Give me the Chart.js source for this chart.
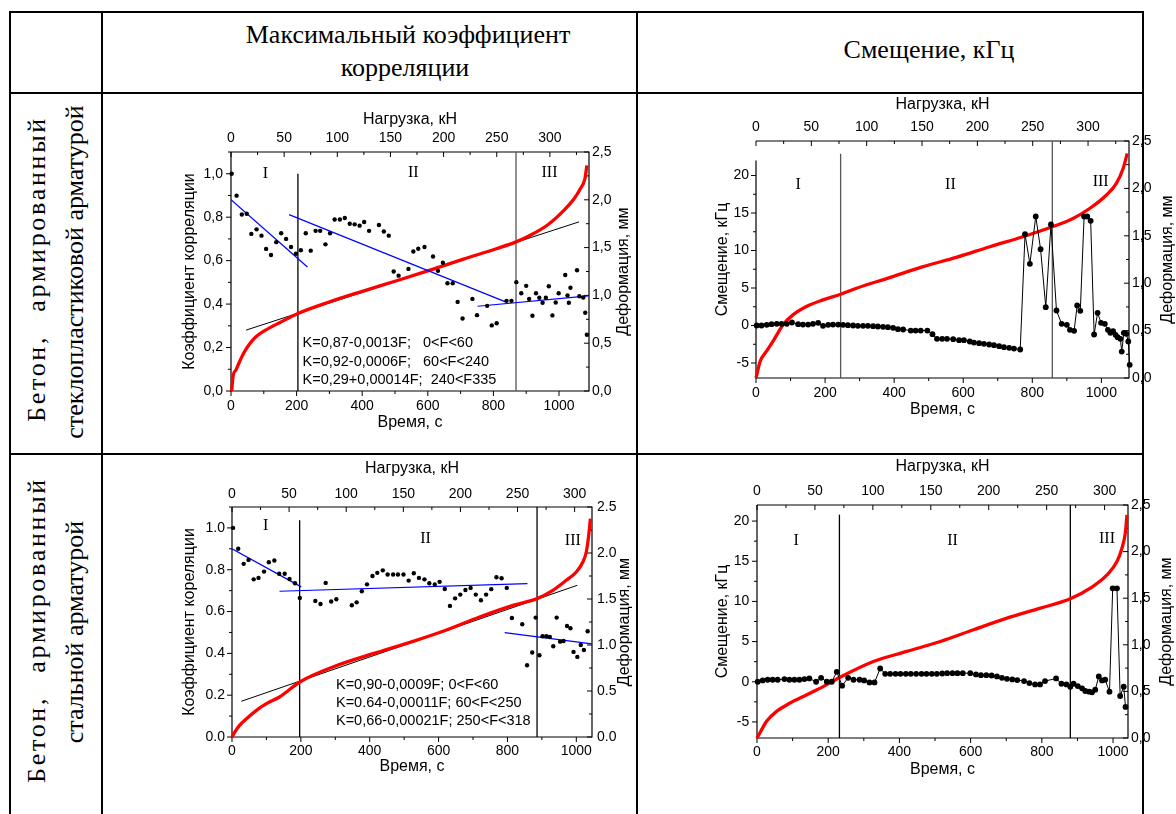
<!DOCTYPE html>
<html>
<head>
<meta charset="utf-8">
<script src="https://cdn.jsdelivr.net/npm/chart.js@4.4.1/dist/chart.umd.min.js"></script>
<style>
  body { margin: 0; background: #fff; }
  #page { position: relative; width: 1176px; height: 814px; overflow: hidden; background: #fff; color: #000; font-family: 'Liberation Serif', serif; }
  canvas { position: absolute; }
  .ln { position: absolute; background: #000; z-index: 2; }
  .hd { position: absolute; transform: translate(-50%, -50%); white-space: nowrap; font-size: 26px; line-height: 26px; }
  .rot { position: absolute; transform: translate(-50%, -50%) rotate(-90deg); white-space: nowrap; font-size: 26px; line-height: 26px; }
  .wide { letter-spacing: 2.7px; word-spacing: 14px; }
</style>
</head>
<body>
<div id="page">
  <!-- table frame -->
  <div class="ln" style="left:9px;top:11px;width:1135px;height:2px"></div>
  <div class="ln" style="left:9px;top:92px;width:1135px;height:2px"></div>
  <div class="ln" style="left:9px;top:453px;width:1135px;height:2px"></div>
  <div class="ln" style="left:9px;top:11px;width:2px;height:803px"></div>
  <div class="ln" style="left:101px;top:11px;width:2px;height:803px"></div>
  <div class="ln" style="left:636px;top:11px;width:2px;height:803px"></div>
  <div class="ln" style="left:1142px;top:11px;width:2px;height:803px"></div>

  <div class="hd" style="left:408px;top:35px">Максимальный коэффициент</div>
  <div class="hd" style="left:405px;top:68px">корреляции</div>
  <div class="hd" style="left:929px;top:50px">Смещение, кГц</div>

  <div class="rot wide" style="left:37px;top:269px">Бетон, армированный</div>
  <div class="rot" style="left:75px;top:272px">стеклопластиковой арматурой</div>
  <div class="rot wide" style="left:37px;top:630px">Бетон, армированный</div>
  <div class="rot" style="left:75px;top:632px">стальной арматурой</div>

  <canvas id="c1"></canvas>
  <canvas id="c2"></canvas>
  <canvas id="c3"></canvas>
  <canvas id="c4"></canvas>
</div>
<script>
// ---------- tick labels ----------
const timeTicks = [0, 200, 400, 600, 800, 1000];
const loadTicks = [0, 50, 100, 150, 200, 250, 300];
const coefTicks = [0, 0.2, 0.4, 0.6, 0.8, 1.0];
const shiftTicks = [-5, 0, 5, 10, 15, 20];
const defTicks = [0, 0.5, 1.0, 1.5, 2.0, 2.5];
const zoneNames = ["I", "II", "III"];

// ---------- chart 1: стеклопластик, коэффициент корреляции ----------
const c1Time = [2, 17, 33, 48, 62, 78, 93, 107, 122, 138, 153, 168, 183, 198, 213, 228, 243, 258, 272, 288,
  302, 316, 332, 347, 362, 377, 392, 406, 421, 451, 466, 481, 496, 511, 541, 556, 571, 590, 616, 631,
  646, 660, 676, 691, 706, 736, 750, 781, 795, 810, 840, 855, 870, 885, 900, 909, 919, 930, 940, 950,
  960, 969, 980, 990, 999, 1019, 1026, 1030, 1035, 1055, 1062, 1074, 1080, 1085];
const c1Coef = [1.0, 0.899, 0.812, 0.816, 0.723, 0.744, 0.715, 0.654, 0.626, 0.685, 0.726, 0.70, 0.663, 0.632, 0.648, 0.726, 0.646, 0.737, 0.737, 0.675,
  0.726, 0.789, 0.789, 0.796, 0.770, 0.767, 0.761, 0.778, 0.737, 0.764, 0.734, 0.715, 0.55, 0.531, 0.562, 0.642, 0.655, 0.663, 0.619, 0.553,
  0.59, 0.496, 0.496, 0.41, 0.334, 0.424, 0.349, 0.392, 0.302, 0.312, 0.415, 0.415, 0.501, 0.45, 0.484, 0.424, 0.346, 0.45, 0.429, 0.406,
  0.429, 0.482, 0.348, 0.407, 0.45, 0.534, 0.44, 0.406, 0.475, 0.556, 0.436, 0.43, 0.36, 0.259];
const c1DefTime = [2, 7, 15, 26, 41, 56, 77, 107, 148, 204, 301, 403, 505, 607, 709, 811, 869, 913, 964, 1015, 1046, 1066, 1079, 1085];
const c1Def = [0, 0.167, 0.22, 0.306, 0.41, 0.49, 0.57, 0.64, 0.714, 0.811, 0.933, 1.045, 1.153, 1.264, 1.379, 1.49, 1.56, 1.63, 1.734, 1.89, 2.01, 2.12, 2.22, 2.36];
const c1FitTime = [46, 1061];
const c1FitDef = [0.637, 1.769];
const c1TrendTime = [[0, 233], [177, 837], [752, 1090]];
const c1TrendCoef = [[0.88, 0.571], [0.812, 0.41], [0.39, 0.438]];
const c1Bounds = [204, 869];
const c1BoundTop = [1.0, 1.1];
const c1Notes = ["K=0,87-0,0013F;   0<F<60", "K=0,92-0,0006F;   60<F<240", "K=0,29+0,00014F;  240<F335"];

// ---------- chart 2: стеклопластик, смещение ----------
const c2Time = [2, 16, 31, 45, 60, 74, 89, 104, 122, 136, 151, 165, 180, 194, 209, 223, 238, 252, 266, 281,
  295, 310, 324, 339, 353, 368, 382, 397, 411, 426, 448, 462, 477, 496, 511, 524, 539, 553, 571, 588,
  602, 619, 631, 646, 660, 675, 689, 704, 718, 733, 747, 765, 779, 793, 810, 824, 839, 854, 870, 885,
  900, 909, 921, 930, 939, 950, 959, 969, 979, 989, 999, 1010, 1019, 1026, 1034, 1041, 1047, 1055, 1059, 1065,
  1072, 1078, 1082];
const c2Shift = [0, 0, 0.09, 0.18, 0.22, 0.22, 0.22, 0.40, 0.18, 0.13, 0.13, 0.22, 0.36, -0.04, 0.09, 0.13, 0.13, 0.09, 0.04, 0,
  -0.04, -0.04, -0.04, -0.09, -0.13, -0.18, -0.22, -0.31, -0.49, -0.53, -0.67, -0.67, -0.67, -0.67, -1.16, -1.78, -1.78, -1.78, -1.82, -1.96,
  -1.96, -2.13, -2.27, -2.36, -2.44, -2.53, -2.62, -2.76, -2.89, -2.98, -3.07, -3.2, 12.18, 8.22, 14.53, 10.18, 2.44, 13.47, 2.0, 0.22,
  0.09, -0.58, -0.71, 2.67, 1.96, 14.53, 14.53, 13.96, -1.2, 1.69, 0.36, 0.22, -0.58, -0.98, -0.76, -1.24, -1.56, -1.78, -3.47, -0.98,
  -1.11, -2.13, -5.24];
const c2DefTime = [0, 12, 30, 49, 78, 107, 146, 194, 245, 291, 387, 484, 580, 677, 773, 858, 918, 966, 1014, 1043, 1063, 1075];
const c2Def = [0, 0.175, 0.28, 0.386, 0.56, 0.666, 0.754, 0.824, 0.884, 0.947, 1.059, 1.175, 1.273, 1.385, 1.49, 1.595, 1.683, 1.788, 1.928, 2.05, 2.21, 2.37];
const c2Bounds = [245, 858];
const c2BoundTop = [22.9, 24.6];

// ---------- chart 3: сталь, коэффициент корреляции ----------
const c3Time = [3, 18, 34, 48, 63, 77, 93, 107, 123, 137, 153, 167, 183, 197, 242, 257, 272, 288, 303, 348,
  362, 377, 392, 408, 422, 438, 452, 468, 482, 498, 513, 528, 543, 559, 573, 589, 603, 618, 633, 648,
  663, 678, 693, 708, 723, 738, 753, 768, 783, 798, 813, 843, 857, 872, 882, 893, 902, 913, 923, 933,
  943, 953, 963, 973, 983, 992, 1003, 1013, 1022, 1033];
const c3Coef = [1.0, 0.90, 0.828, 0.847, 0.754, 0.761, 0.791, 0.836, 0.844, 0.781, 0.781, 0.756, 0.735, 0.665, 0.651, 0.636, 0.737, 0.648, 0.659, 0.63,
  0.644, 0.697, 0.73, 0.77, 0.785, 0.797, 0.777, 0.777, 0.777, 0.777, 0.748, 0.783, 0.761, 0.754, 0.735, 0.729, 0.742, 0.708, 0.627, 0.663,
  0.681, 0.703, 0.713, 0.681, 0.654, 0.681, 0.707, 0.764, 0.759, 0.713, 0.569, 0.539, 0.343, 0.404, 0.571, 0.391, 0.482, 0.482, 0.478, 0.434,
  0.571, 0.456, 0.459, 0.531, 0.52, 0.407, 0.383, 0.44, 0.416, 0.506];
const c3DefTime = [0, 8, 22, 42, 71, 100, 138, 197, 293, 410, 526, 623, 719, 816, 886, 932, 971, 1000, 1019, 1029, 1036, 1041];
const c3Def = [0, 0.054, 0.127, 0.199, 0.29, 0.362, 0.435, 0.598, 0.761, 0.906, 1.04, 1.163, 1.304, 1.431, 1.504, 1.594, 1.703, 1.793, 1.902, 2.011, 2.192, 2.373];
const c3FitTime = [27, 1003];
const c3FitDef = [0.388, 1.649];
const c3TrendTime = [[0, 201], [138, 858], [792, 1045]];
const c3TrendCoef = [[0.9, 0.718], [0.697, 0.734], [0.499, 0.445]];
const c3Bounds = [196.5, 886];
const c3BoundTop = [1.037, 1.1];
const c3Notes = ["K=0,90-0,0009F; 0<F<60", "K=0.64-0,00011F; 60<F<250", "K=0,66-0,00021F; 250<F<318"];

// ---------- chart 4: сталь, смещение ----------
const c4Time = [2, 16, 30, 44, 58, 77, 91, 105, 119, 133, 147, 166, 180, 196, 210, 224, 239, 256, 271, 288,
  301, 316, 330, 346, 360, 374, 389, 403, 418, 432, 447, 462, 476, 491, 505, 520, 534, 549, 563, 578,
  599, 615, 629, 644, 659, 674, 688, 702, 717, 731, 750, 765, 781, 795, 809, 840, 855, 869, 880, 889,
  901, 913, 922, 933, 941, 950, 960, 969, 978, 990, 999, 1011, 1020, 1030, 1035];
const c4Shift = [0, 0.16, 0.25, 0.25, 0.25, 0.33, 0.25, 0.25, 0.25, 0.33, 0.41, 0, 0.49, 0, 0, 1.24, -0.49, 0.49, 0.25, 0.25,
  0.16, -0.08, -0.08, 1.65, 0.99, 0.99, 0.99, 0.99, 0.99, 0.99, 0.99, 0.99, 0.99, 0.99, 0.99, 1.03, 1.07, 1.07, 1.07, 1.07,
  1.07, 0.91, 0.82, 0.82, 0.78, 0.66, 0.49, 0.37, 0.29, 0.21, 0.08, -0.16, -0.33, -0.33, 0.08, 0.41, -0.25, -0.33, -0.62, -0.25,
  -0.54, -0.82, -1.15, -1.24, -1.32, -0.99, 0.66, 0.16, 0.25, -1.24, 11.63, 11.63, -1.77, -0.62, -3.13];
const c4DefTime = [0, 8, 27, 55, 93, 140, 187, 232, 327, 421, 515, 608, 702, 796, 880, 936, 983, 1011, 1025, 1035, 1039];
const c4Def = [0, 0.054, 0.179, 0.286, 0.375, 0.464, 0.554, 0.65, 0.821, 0.929, 1.036, 1.161, 1.286, 1.393, 1.493, 1.607, 1.75, 1.893, 2.036, 2.214, 2.393];
const c4Bounds = [231.5, 880];
const c4BoundTop = [20.8, 22];

// ---------- helpers ----------
const sans = "'Liberation Sans', Arial, sans-serif";
const serif = "'Liberation Serif', 'Times New Roman', serif";
const comma = v => v.toFixed(1).replace(".", ",");
const dot = v => v.toFixed(1);
const plain = v => String(v);

function pts(xs, ys) {
  return xs.map((x, i) => ({ x: x, y: ys[i] }));
}

function marks(ctx, s, edge, dir, limit) {
  const vals = s.ticks.map(t => t.value);
  const step = vals[1] - vals[0];
  const put = (v, len) => {
    const p = s.getPixelForValue(v);
    ctx.beginPath();
    if (s.isHorizontal()) { ctx.moveTo(p, edge); ctx.lineTo(p, edge + dir * len); }
    else { ctx.moveTo(edge, p); ctx.lineTo(edge + dir * len, p); }
    ctx.stroke();
  };
  vals.forEach(v => { if (v <= limit) put(v, 5); });
  for (let v = vals[0] - step / 2; v <= s.max + 1e-9; v += step) {
    if (v >= s.min - 1e-9 && v <= limit) put(v, 3);
  }
}

function rotText(ctx, text, x, y) {
  ctx.save();
  ctx.translate(x, y);
  ctx.rotate(-Math.PI / 2);
  ctx.fillText(text, 0, 0);
  ctx.restore();
}

// frame, tick marks, axis titles, zone labels, equations
const axisDeco = {
  id: "axisDeco",
  beforeDatasetsDraw(chart, args, o) {
    const { ctx, chartArea: a, scales } = chart;
    ctx.save();
    ctx.strokeStyle = "#000";
    ctx.lineWidth = 1.2;
    const lt = o.leftTop != null ? scales.y.getPixelForValue(o.leftTop) : a.top;
    ctx.beginPath();
    ctx.moveTo(a.left, lt);
    ctx.lineTo(a.left, a.bottom);
    ctx.lineTo(a.right, a.bottom);
    ctx.lineTo(a.right, a.top);
    ctx.lineTo(a.left, a.top);
    ctx.stroke();
    ctx.lineWidth = 1;
    marks(ctx, scales.x, a.bottom, 1, Infinity);
    marks(ctx, scales.x2, a.top, 1, Infinity);
    marks(ctx, scales.y, a.left, -1, o.leftTop != null ? o.leftTop : Infinity);
    marks(ctx, scales.y2, a.right, -1, Infinity);
    ctx.restore();
  },
  afterDatasetsDraw(chart, args, o) {
    const { ctx, chartArea: a, scales } = chart;
    const cx = (a.left + a.right) / 2, cy = (a.top + a.bottom) / 2;
    ctx.save();
    ctx.fillStyle = "#000";
    ctx.textAlign = "center";
    ctx.textBaseline = "middle";
    ctx.font = "16px " + sans;
    ctx.fillText("Нагрузка, кН", cx, a.top - o.off[1]);
    ctx.fillText("Время, с", cx, a.bottom + o.off[2]);
    rotText(ctx, o.leftTitle, a.left - o.off[0], cy);
    rotText(ctx, "Деформация, мм", a.right + o.off[3], cy);

    ctx.font = "16px " + serif;
    zoneNames.forEach((s, i) => {
      ctx.fillText(s, scales.x.getPixelForValue(o.zoneX[i]), scales.y.getPixelForValue(o.zoneY[i]));
    });

    if (o.notes) {
      ctx.font = "14.5px " + sans;
      ctx.textAlign = "left";
      o.notes.forEach((s, i) => {
        ctx.fillText(s, scales.x.getPixelForValue(o.noteX), scales.y.getPixelForValue(o.noteY[i]));
      });
    }
    ctx.restore();
  }
};
Chart.register(axisDeco);

function axis(pos, min, max, ticks, fmt, pad, size) {
  const vertical = pos === "left" || pos === "right";
  return {
    type: "linear",
    position: pos,
    min: min,
    max: max,
    afterBuildTicks: s => { s.ticks = ticks.map(v => ({ value: v })); },
    afterFit: s => { if (vertical) s.width = size; else s.height = size; },
    grid: { display: false, drawTicks: false },
    border: { display: false },
    ticks: { font: { family: sans, size: 14 }, color: "#000", padding: pad, autoSkip: false, maxRotation: 0, callback: v => fmt(v) }
  };
}

function build(c) {
  const cv = document.getElementById(c.id);
  cv.width = c.w;
  cv.height = c.h;
  cv.style.left = c.cx + "px";
  cv.style.top = c.cy + "px";

  const datasets = [];
  datasets.push({
    data: pts(c.time, c.vals), yAxisID: "y", showLine: c.joined, borderColor: "#000", borderWidth: 1,
    pointRadius: c.dot, pointBackgroundColor: "#000", pointBorderWidth: 0, clip: false
  });
  (c.trendTime || []).forEach((tt, i) => {
    datasets.push({ data: pts(tt, c.trendVals[i]), yAxisID: "y", borderColor: "#0000ff", borderWidth: 1.2, pointRadius: 0 });
  });
  datasets.push({
    data: pts(c.defTime, c.def), yAxisID: "y2", borderColor: "#ff0000", borderWidth: 3.3,
    pointRadius: 0, cubicInterpolationMode: "monotone", clip: false
  });
  if (c.fitTime) {
    datasets.push({ data: pts(c.fitTime, c.fitDef), yAxisID: "y2", borderColor: "#000", borderWidth: 1, pointRadius: 0 });
  }
  c.bounds.forEach((b, i) => {
    datasets.push({
      data: [{ x: b, y: c.y[0] }, { x: b, y: c.boundTop[i] }], yAxisID: "y",
      borderColor: c.boundColor[i], borderWidth: 1.3, pointRadius: 0
    });
  });

  const L = c.plot[0] - c.cx, T = c.plot[1] - c.cy;
  const R = c.cx + c.w - c.plot[2], B = c.cy + c.h - c.plot[3];

  return new Chart(cv, {
    type: "line",
    data: { datasets: datasets },
    options: {
      responsive: false,
      animation: false,
      devicePixelRatio: 1,
      events: [],
      layout: { padding: 0 },
      scales: {
        x: axis("bottom", 0, c.x[1], timeTicks, plain, c.pad[2], B),
        x2: axis("top", 0, c.load, loadTicks, plain, c.pad[1], T),
        y: axis("left", c.y[0], c.y[1], c.yTicks, c.yFmt, c.pad[0], L),
        y2: axis("right", 0, 2.5, defTicks, c.defFmt, c.pad[3], R)
      },
      plugins: {
        legend: { display: false },
        tooltip: { enabled: false },
        axisDeco: {
          leftTop: c.leftTop,
          leftTitle: c.leftTitle,
          off: c.off,
          zoneX: c.zoneX,
          zoneY: c.zoneY,
          notes: c.notes,
          noteX: c.noteX,
          noteY: c.noteY
        }
      }
    }
  });
}

build({
  id: "c1", cx: 150, cy: 95, w: 490, h: 345, plot: [231, 152, 589, 391],
  x: [0, 1091.5], load: 336.8, y: [0, 1.1], yTicks: coefTicks, yFmt: comma, defFmt: comma,
  pad: [8, 5.5, 6.5, 3], off: [41, 32, 32, 35],
  time: c1Time, vals: c1Coef, joined: false, dot: 2.2,
  defTime: c1DefTime, def: c1Def, fitTime: c1FitTime, fitDef: c1FitDef,
  trendTime: c1TrendTime, trendVals: c1TrendCoef,
  bounds: c1Bounds, boundTop: c1BoundTop, boundColor: ["#000", "#555"],
  leftTitle: "Коэффициент корреляции",
  zoneX: [105, 556, 971], zoneY: [1.0, 1.005, 1.005],
  notes: c1Notes, noteX: 218, noteY: [0.2195, 0.135, 0.0506]
});

build({
  id: "c2", cx: 690, cy: 88, w: 486, h: 337, plot: [756, 141, 1129, 378],
  x: [0, 1080], load: 337, y: [-7, 24.6], yTicks: shiftTicks, yFmt: plain, defFmt: comma,
  pad: [7, 5.3, 6.3, 3], off: [33, 36, 32, 39], leftTop: 22,
  time: c2Time, vals: c2Shift, joined: true, dot: 2.9,
  defTime: c2DefTime, def: c2Def,
  bounds: c2Bounds, boundTop: c2BoundTop, boundColor: ["#555", "#555"],
  leftTitle: "Смещение, кГц",
  zoneX: [122, 563, 998], zoneY: [18.75, 18.75, 19.1]
});

build({
  id: "c3", cx: 150, cy: 456, w: 490, h: 334, plot: [232, 507, 592, 737],
  x: [0, 1045.6], load: 315.2, y: [0, 1.1], yTicks: coefTicks, yFmt: dot, defFmt: dot,
  pad: [7, 4, 6, 5], off: [42, 38.5, 30, 33],
  time: c3Time, vals: c3Coef, joined: false, dot: 2.2,
  defTime: c3DefTime, def: c3Def, fitTime: c3FitTime, fitDef: c3FitDef,
  trendTime: c3TrendTime, trendVals: c3TrendCoef,
  bounds: c3Bounds, boundTop: c3BoundTop, boundColor: ["#000", "#000"],
  leftTitle: "Коэффициент кореляции",
  zoneX: [98, 562, 990], zoneY: [1.01, 0.95, 0.94],
  notes: c3Notes, noteX: 302, noteY: [0.249, 0.161, 0.0765]
});

build({
  id: "c4", cx: 690, cy: 456, w: 486, h: 334, plot: [757, 505, 1128, 738],
  x: [0, 1042], load: 320.2, y: [-7, 22], yTicks: shiftTicks, yFmt: plain, defFmt: comma,
  pad: [7.7, 5.6, 6, 3], off: [34, 38.5, 32, 39],
  time: c4Time, vals: c4Shift, joined: true, dot: 2.9,
  defTime: c4DefTime, def: c4Def,
  bounds: c4Bounds, boundTop: c4BoundTop, boundColor: ["#000", "#000"],
  leftTitle: "Смещение, кГц",
  zoneX: [110, 549, 983], zoneY: [17.6, 17.6, 17.8]
});
</script>
</body>
</html>
